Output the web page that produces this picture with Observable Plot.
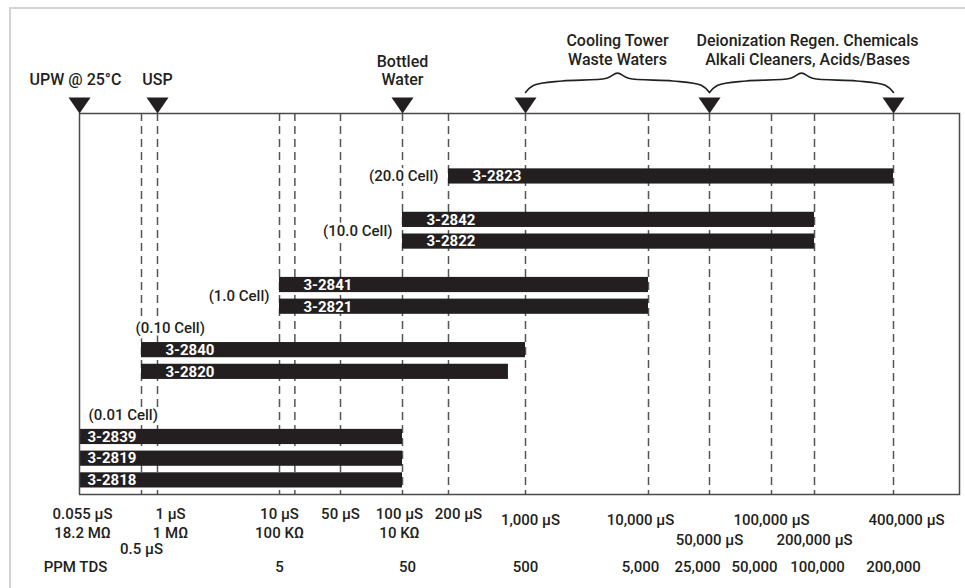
<!DOCTYPE html>
<html><head><meta charset="utf-8">
<script src="https://cdn.jsdelivr.net/npm/d3@7"></script>
<script src="https://cdn.jsdelivr.net/npm/@observablehq/plot@0.6"></script>
<style>
body{margin:0;background:#fff;}
#wrap{position:relative;width:965px;height:588px;overflow:hidden;}
#edge{position:absolute;left:9px;top:7px;width:1000px;height:1000px;border-left:2px solid #d4d4d4;border-top:2px solid #d4d4d4;pointer-events:none;}
</style></head><body><div id="wrap"><div id="edge"></div></div>
<script>
// ---------- data ----------
const codes = ["3-2823", "3-2842", "3-2822", "3-2841", "3-2821", "3-2840", "3-2820", "3-2839", "3-2819", "3-2818"];
const lows  = [200, 100, 100, 10, 10, 0.5, 0.5, 0.055, 0.055, 0.055];          // µS
const highs = [400000, 200000, 200000, 10000, 10000, 1000, 700, 100, 100, 100]; // µS
const barGroup = [0, 1, 1, 2, 2, 3, 3, 4, 4, 4];
const cellLabels = ["(20.0 Cell)", "(10.0 Cell)", "(1.0 Cell)", "(0.10 Cell)", "(0.01 Cell)"];

const markers = [0.055, 1, 100, 1000, 50000, 400000];
const markerLabelValues = [0.055, 1, 100];
const markerLabelLines = [["UPW @ 25°C"], ["USP"], ["Bottled", "Water"]];
const rangeFrom = [1000, 50000];
const rangeTo = [50000, 400000];
const rangeLabelLines = [["Cooling Tower", "Waste Waters"], ["Deionization Regen. Chemicals", "Alkali Cleaners, Acids/Bases"]];

const gridValues = [0.5, 1, 10, 15, 50, 100, 200, 1000, 10000, 50000, 100000, 200000, 400000];

const usValues = [0.055, 1, 10, 50, 100, 200, 1000, 10000, 100000, 400000];
const usLabels = ["0.055 µS", "1 µS", "10 µS", "50 µS", "100 µS", "200 µS", "1,000 µS", "10,000 µS", "100,000 µS", "400,000 µS"];
const ohmValues = [0.055, 1, 10, 100];
const ohmLabels = ["18.2 MΩ", "1 MΩ", "100 KΩ", "10 KΩ"];
const usValues2 = [0.5, 50000, 200000];
const usLabels2 = ["0.5 µS", "50,000 µS", "200,000 µS"];
const ppmValues = [10, 100, 1000, 10000, 50000, 100000, 200000, 400000];
const ppmLabels = ["5", "50", "500", "5,000", "25,000", "50,000", "100,000", "200,000"];
const ppmTitle = "PPM TDS";

// ---------- scales / layout ----------
const scalePoints = [0.055, 0.5, 1, 10, 50, 100, 200, 1000, 10000, 50000, 100000, 200000, 400000];
const xRange = [79, 141, 157, 279, 340, 402, 448, 525, 648, 709, 771, 814, 893]; // schematic axis
const xs = Plot.scale({x: {type: "log", domain: scalePoints, range: xRange}});

// bar slots: one step inside a group, a wider step between groups
const bars = [];
let s = 0;
codes.forEach((code, i) => {
  const g = barGroup[i];
  if (i > 0) {
    if (g !== barGroup[i - 1]) {
      const size = barGroup.filter(v => v === g).length;
      s += size >= 3 ? 3 : 2;
    } else s += 1;
  }
  bars.push({code, lo: lows[i], hi: highs[i], group: g, slot: s});
});
const yTop = -2.9, yBottom = s + 0.65;

const groups = cellLabels.map((label, g) => {
  const b = bars.filter(d => d.group === g);
  const lo = b[0].lo;
  const above = lo < 1;
  return {label, lo, above,
    y: above ? b[0].slot - 1 : (b[0].slot + b[b.length - 1].slot) / 2,
    edge: lo === scalePoints[0]};
});

// curly braces drawn between range markers
const braceShape = [[0, 0.97], [0.045, 1.3], [0.2, 1.5], [0.44, 1.62], [0.5, 1.86], [0.56, 1.62], [0.8, 1.5], [0.955, 1.3], [1, 0.97]];
const braces = rangeFrom.flatMap((a, i) => {
  const p0 = xs.apply(a), p1 = xs.apply(rangeTo[i]);
  return braceShape.map(([t, h]) => ({id: i, x: xs.invert(p0 + t * (p1 - p0)), y: yTop - h}));
});
const rangeMid = rangeFrom.map((a, i) => xs.invert((xs.apply(a) + xs.apply(rangeTo[i])) / 2));

const downTri = {draw(ctx) { ctx.moveTo(-11, -8); ctx.lineTo(11, -8); ctx.lineTo(0, 8); ctx.closePath(); }};

const ink = "#231f20";
const nudge = {
  "0.055 µS": [3, 0], "18.2 MΩ": [3, 0], "1 µS": [13, 0], "1 MΩ": [13, 0], "100 µS": [-3, 0], "10 KΩ": [-3, 0],
  "200 µS": [10, 0], "1,000 µS": [5, 6], "10,000 µS": [-8, 6], "100,000 µS": [0, 6], "400,000 µS": [13, 6],
  "0.5 µS": [0, 9], "50": [5, 0], "5,000": [-8, 0], "25,000": [-12, 0], "50,000": [-17, 0], "100,000": [3, 0]
};
function tickRow(values, labels, dy) {
  return values.map((v, i) => {
    const [ndx, ndy] = nudge[labels[i]] || [0, 0];
    return Plot.text([labels[i]], {x: () => v, text: d => d, frameAnchor: "bottom", lineAnchor: "middle", dy: dy + ndy, dx: ndx, fill: ink, fontWeight: 500});
  });
}

const headerText = [];
markerLabelValues.forEach((v, i) => {
  const lines = markerLabelLines[i].slice().reverse();
  lines.forEach((t, k) => headerText.push(Plot.text([t], {x: () => v, text: d => d, frameAnchor: "top", lineAnchor: "middle", dy: -34 - 18 * k, dx: i === 0 ? -4 : 0, fill: ink, fontSize: 16, fontWeight: 500})));
});
rangeMid.forEach((v, i) => {
  const lines = rangeLabelLines[i].slice().reverse();
  lines.forEach((t, k) => headerText.push(Plot.text([t], {x: () => v, text: d => d, frameAnchor: "top", lineAnchor: "middle", dy: -54 - 19 * k, dx: i === 1 ? 6 : 0, fill: ink, fontSize: 16, fontWeight: 500})));
});

const halo = {fill: ink, fontWeight: 500, stroke: "white", strokeWidth: 5};

const chart = Plot.plot({
  width: 965, height: 588,
  marginLeft: 79, marginRight: 6, marginTop: 113, marginBottom: 94,
  x: {type: "log", domain: scalePoints, range: xRange, axis: null},
  y: {domain: [yTop, yBottom], reverse: true, axis: null},
  style: {fontFamily: "Roboto, sans-serif", fontSize: "15px", color: ink, background: "transparent"},
  marks: [
    Plot.ruleX(gridValues, {stroke: "#555", strokeWidth: 1.5, strokeDasharray: "8,5"}),
    Plot.rect(bars, {x1: "lo", x2: "hi", y1: d => d.slot - 0.35, y2: d => d.slot + 0.35, fill: ink}),
    Plot.frame({stroke: "#4a4a4a", strokeWidth: 1.5}),
    Plot.text(bars.filter(d => d.lo !== scalePoints[0]), {x: "lo", y: "slot", text: "code", textAnchor: "start", dx: 24, fill: "white", fontWeight: "bold"}),
    Plot.text(bars.filter(d => d.lo === scalePoints[0]), {x: "lo", y: "slot", text: "code", textAnchor: "start", dx: 8, fill: "white", fontWeight: "bold"}),
    Plot.text(groups.filter(d => !d.above), {x: "lo", y: "y", text: "label", textAnchor: "end", dx: -10, ...halo}),
    Plot.text(groups.filter(d => d.above && !d.edge), {x: "lo", y: "y", text: "label", textAnchor: "start", dx: -6, ...halo}),
    Plot.text(groups.filter(d => d.above && d.edge), {x: "lo", y: "y", text: "label", textAnchor: "start", dx: 9, ...halo}),
    Plot.dot(markers, {x: d => d, frameAnchor: "top", symbol: downTri, fill: ink, stroke: null, dy: -8}),
    Plot.line(braces, {x: "x", y: "y", z: "id", curve: "catmull-rom", stroke: ink, strokeWidth: 1.6}),
    ...headerText,
    ...tickRow(usValues, usLabels, 20),
    ...tickRow(ohmValues, ohmLabels, 39),
    ...tickRow(usValues2, usLabels2, 46),
    ...tickRow(ppmValues, ppmLabels, 73),
    Plot.text([ppmTitle], {x: () => scalePoints[0], text: d => d, frameAnchor: "bottom", lineAnchor: "middle", dy: 73, dx: -4, fill: ink, fontWeight: 500})
  ]
});
document.getElementById("wrap").prepend(chart);
</script>
</body></html>
